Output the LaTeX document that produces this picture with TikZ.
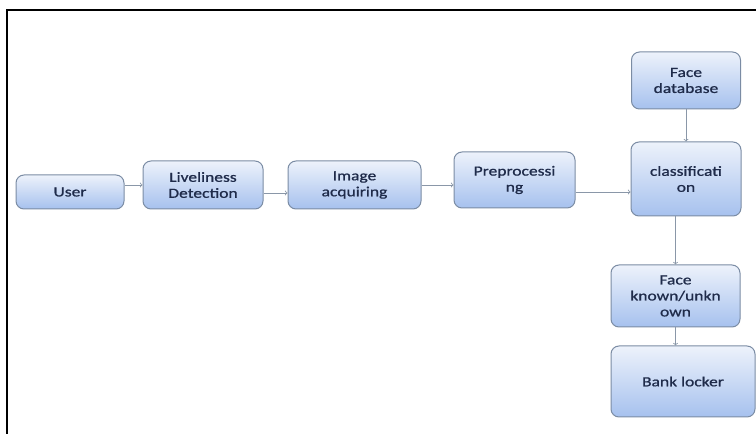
\documentclass[tikz,border=0pt]{standalone}
\usepackage{fontspec}
\newfontfamily\boxfont{Carlito}[FakeStretch=1.25,FakeBold=0.9]
\usetikzlibrary{arrows}
\definecolor{boxtop}{HTML}{EDF2FB}
\definecolor{boxbot}{HTML}{A6C1EE}
\definecolor{boxline}{HTML}{7B8CA4}
\definecolor{boxtext}{HTML}{1F2B4A}
\definecolor{flowgray}{HTML}{8A97A8}

\begin{document}
\begin{tikzpicture}[x=1pt,y=1pt,
    block/.style={draw=boxline,line width=1pt,rounded corners=8pt,top color=boxtop,bottom color=boxbot,
        text=boxtext,font=\boxfont\fontsize{14}{16}\selectfont,align=center,inner sep=0pt},
    flow/.style={->,draw=flowgray,line width=0.8pt}]
    \useasboundingbox (0,0) rectangle (756,434);
    \draw[line width=2pt] (6.5,0)--(6.5,424)--(756,424);
    % main row
    \node[block,minimum width=108,minimum height=34] (user) at (70,242) {User};
    \node[block,minimum width=120,minimum height=48] (live) at (203,249) {Liveliness\\Detection};
    \node[block,minimum width=133,minimum height=48] (image) at (354.5,249) {Image\\acquiring};
    \node[block,minimum width=121,minimum height=56] (prep) at (514.5,254) {Preprocessi\\ng};
    \node[block,minimum width=110,minimum height=74] (classif) at (686,255) {classificati\\on};
    % right column
    \node[block,minimum width=109,minimum height=57] (facedb) at (686,353.5) {Face\\database};
    \node[block,minimum width=129,minimum height=62] (known) at (675.5,138) {Face\\known/unkn\\own};
    \node[block,minimum width=144,minimum height=71] (bank) at (683,52.5) {Bank locker};
    % arrows
    \draw[flow] (user.east |- live.west)--(live.west);
    \draw[flow] ([yshift=-8pt]live.east)--([yshift=-8pt]image.west);
    \draw[flow] (image.east)--(image.east -| prep.west);
    \draw[flow] ([yshift=-12pt]prep.east)--([yshift=-12pt]prep.east -| classif.west);
    \draw[flow] (facedb)--(classif);
    \draw[flow] (known.north |- classif.south)--(known.north);
    \draw[flow] (known.south)--(known.south |- bank.north);
\end{tikzpicture}
\end{document}
